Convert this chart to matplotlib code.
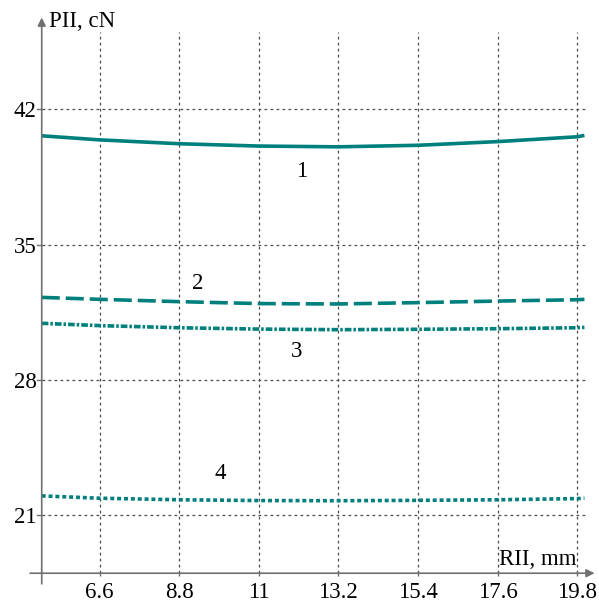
import matplotlib.pyplot as plt
import numpy as np

plt.rcParams['font.family'] = ['Liberation Serif', 'DejaVu Serif']

# radius RII, mm and force PII, cN for the four curves
rii = [5.0, 6.6, 8.8, 11.0, 13.2, 15.4, 17.6, 19.8, 20.0]
pii_1 = [40.63, 40.42, 40.22, 40.10, 40.06, 40.14, 40.33, 40.58, 40.65]
pii_2 = [32.27, 32.17, 32.05, 31.95, 31.93, 32.00, 32.08, 32.15, 32.17]
pii_3 = [30.93, 30.81, 30.70, 30.63, 30.60, 30.62, 30.65, 30.70, 30.72]
pii_4 = [22.00, 21.88, 21.80, 21.76, 21.75, 21.77, 21.80, 21.86, 21.88]

curve_labels = ['1', '2', '3', '4']
label_pos = [(12.19, 38.76), (9.32, 33.0), (12.03, 29.45), (9.93, 23.14)]

xticks = [6.6, 8.8, 11, 13.2, 15.4, 17.6, 19.8]
yticks = [21, 28, 35, 42]

teal = '#00807c'
axis_col = '#707070'
grid_col = '#4a4a4a'
fs = 16.5

fig = plt.figure(figsize=(5.99, 6.03), dpi=100)
ax = fig.add_axes([0.0503, 0.0494, 0.9284, 0.8975])
ax.set_xlim(4.68, 20.05)
ax.set_ylim(18, 46)
for s in ax.spines.values():
    s.set_visible(False)

# grid only inside the quadrant
ax.vlines(xticks, 18, 46, colors=grid_col, linestyles=(0, (2.2, 2.6)), lw=0.9, zorder=1)
ax.hlines(yticks, 5, 20.05, colors=grid_col, linestyles=(0, (2.2, 2.6)), lw=0.9, zorder=1)

lw = 2.6
ax.plot(rii, pii_1, color=teal, lw=lw, solid_capstyle='butt', zorder=3)
ax.plot(rii, pii_2, color=teal, lw=lw, dashes=(5, 1.65), dash_capstyle='butt', zorder=3)
ax.plot(rii, pii_3, color=teal, lw=lw, dashes=(1.85, 0.55, 0.7, 0.55), dash_capstyle='butt', zorder=3)
ax.plot(rii, pii_4, color=teal, lw=lw, dashes=(1.1, 0.8), dash_capstyle='butt', zorder=3)

for lab, (lx, ly) in zip(curve_labels, label_pos):
    ax.text(lx, ly, lab, fontsize=fs, ha='center', va='center')

# axes with arrows
ax.annotate('', xy=(20.28, 18), xytext=(4.68, 18), annotation_clip=False,
            arrowprops=dict(arrowstyle='-|>', color=axis_col, lw=1.2, mutation_scale=12,
                            shrinkA=0, shrinkB=0))
ax.annotate('', xy=(5, 46.75), xytext=(5, 17.45), annotation_clip=False,
            arrowprops=dict(arrowstyle='-|>', color=axis_col, lw=1.2, mutation_scale=12,
                            shrinkA=0, shrinkB=0))

ax.set_xticks(xticks)
ax.set_xticklabels([f'{v:g}' for v in xticks])
ax.set_yticks(yticks)
ax.set_yticklabels([str(v) for v in yticks])
ax.tick_params(axis='x', direction='out', length=2.5, width=1, color=axis_col,
               pad=3.5, labelsize=fs)
ax.tick_params(axis='y', direction='out', length=0, pad=-4.8, labelsize=fs)
# y ticks are drawn from the y-axis at x=5
for v in yticks:
    ax.plot([4.86, 5], [v, v], color=axis_col, lw=1, clip_on=False, zorder=2)

ax.text(5.2, 46.57, 'PII, cN', fontsize=fs, ha='left', va='center')
ax.text(19.78, 18.43, 'RII, mm', fontsize=fs, ha='right', va='baseline')

fig.savefig('out.png', dpi=100)
